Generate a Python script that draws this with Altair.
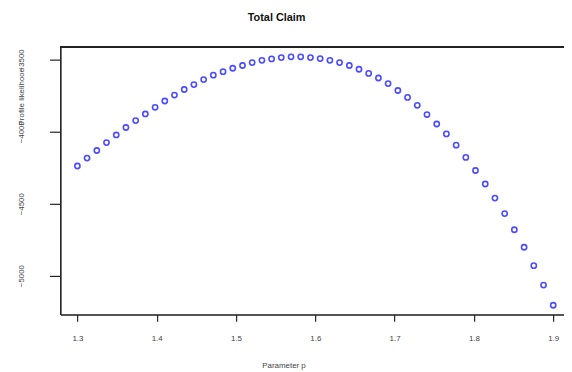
import altair as alt
import pandas as pd

p_values = [1.3000, 1.3122, 1.3245, 1.3367, 1.3490, 1.3612, 1.3735, 1.3857, 1.3980, 1.4102,
            1.4224, 1.4347, 1.4469, 1.4592, 1.4714, 1.4837, 1.4959, 1.5082, 1.5204, 1.5327,
            1.5449, 1.5571, 1.5694, 1.5816, 1.5939, 1.6061, 1.6184, 1.6306, 1.6429, 1.6551,
            1.6673, 1.6796, 1.6918, 1.7041, 1.7163, 1.7286, 1.7408, 1.7531, 1.7653, 1.7776,
            1.7898, 1.8020, 1.8143, 1.8265, 1.8388, 1.8510, 1.8633, 1.8755, 1.8878, 1.9000]
loglik = [-4238, -4183, -4130, -4075, -4022, -3970, -3922, -3876, -3830, -3786,
          -3745, -3706, -3672, -3637, -3606, -3582, -3558, -3539, -3519, -3503,
          -3493, -3484, -3479, -3479, -3484, -3491, -3503, -3519, -3539, -3565,
          -3594, -3626, -3665, -3713, -3761, -3816, -3880, -3946, -4015, -4093,
          -4178, -4269, -4363, -4461, -4569, -4681, -4803, -4931, -5066, -5206]
x_ticks = [1.3, 1.4, 1.5, 1.6, 1.7, 1.8, 1.9]
y_ticks = [-5000, -4500, -4000, -3500]

df = pd.DataFrame({"p": p_values, "ll": loglik})

W, H = 510, 271
FONT = "Liberation Sans"

points = alt.Chart(df).mark_point(
    shape="circle", filled=False, color="#0000ff", size=28, strokeWidth=1.6
).encode(
    x=alt.X("p:Q", scale=alt.Scale(domain=[1.2785, 1.9136], nice=False, zero=False),
            axis=alt.Axis(values=x_ticks, format=".1f", title="Parameter p",
                          tickSize=7, tickColor="#222", tickWidth=1.2,
                          domainColor="#222", domainWidth=1.6,
                          labelFontSize=8, labelColor="#444", labelPadding=13,
                          labelFont=FONT, grid=False,
                          titleFont=FONT, titleFontSize=8, titleFontWeight="normal",
                          titleColor="#444", titleX=226, titleY=52,
                          titleAlign="center", titleBaseline="middle")),
    y=alt.Y("ll:Q", scale=alt.Scale(domain=[-5270, -3409], nice=False, zero=False),
            axis=alt.Axis(values=y_ticks, format="d", title="Profile likelihood",
                          tickSize=11, tickColor="#222", tickWidth=1.2,
                          domainColor="#222", domainWidth=1.6,
                          labelFontSize=8, labelColor="#444", labelAngle=270,
                          labelAlign="center", labelBaseline="middle",
                          labelPadding=28, labelFont=FONT, grid=False,
                          titleFont=FONT, titleFontSize=8, titleFontWeight="normal",
                          titleColor="#444", titleAngle=270, titleX=-39, titleY=50,
                          titleAlign="center", titleBaseline="middle")),
)

top_border = alt.Chart(df).mark_rule(color="#222", strokeWidth=1.6).encode(
    x=alt.value(0), x2=alt.value(W), y=alt.value(0)
)

chart = alt.layer(points, top_border).properties(
    width=W, height=H,
    title=alt.TitleParams("Total Claim", font=FONT, fontSize=11, fontWeight="bold",
                          color="#111", anchor="middle", dx=-36, offset=23),
    autosize=alt.AutoSizeParams(type="none"),
    padding={"left": 53, "top": 37, "right": 0, "bottom": 55},
).configure_view(stroke=None).configure(background="white")

chart.save("out.html", embed_options={"renderer": "svg", "actions": False})
